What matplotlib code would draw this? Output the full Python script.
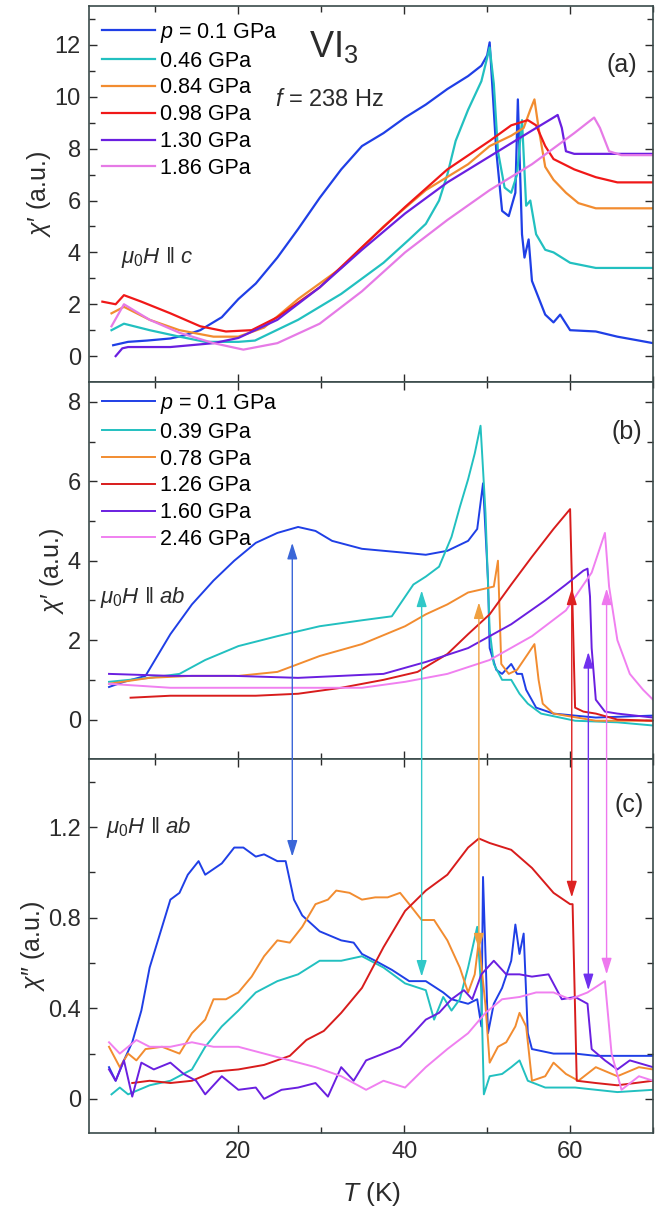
import matplotlib
matplotlib.use("Agg")
import matplotlib.pyplot as plt
from matplotlib.patches import ConnectionPatch
from matplotlib.ticker import MultipleLocator, FormatStrFormatter

plt.rcParams["font.family"] = ["Liberation Sans", "DejaVu Sans"]
plt.rcParams["mathtext.fontset"] = "custom"
plt.rcParams["mathtext.rm"] = "Liberation Sans"
plt.rcParams["mathtext.it"] = "Liberation Sans:italic"
plt.rcParams["mathtext.bf"] = "Liberation Sans:bold"

# ---- panel (a): chi' with H || c, f = 238 Hz ----
a_labels = [r"$p$ = 0.1 GPa", "0.46 GPa", "0.84 GPa", "0.98 GPa", "1.30 GPa", "1.86 GPa"]

a_T_010 = [4.9, 6.7, 9.0, 11.8, 13.5, 15.4, 18.0, 20.0, 22.1, 24.7, 27.2, 29.8, 32.4, 34.9,
           37.5, 40.1, 42.6, 45.2, 47.7, 49.3, 50.0, 50.3, 51.1, 51.8, 52.6, 53.4, 53.7,
           54.2, 54.5, 55.0, 55.4, 57.0, 58.0, 58.8, 60.0, 63.1, 65.7, 68.3, 70.0]
a_X_010 = [0.42, 0.55, 0.6, 0.68, 0.8, 1.0, 1.5, 2.2, 2.8, 3.8, 4.9, 6.1, 7.2, 8.1,
           8.6, 9.2, 9.7, 10.3, 10.8, 11.2, 11.6, 12.1, 7.9, 5.6, 5.4, 6.3, 9.9,
           4.7, 3.8, 4.5, 2.9, 1.6, 1.3, 1.6, 1.0, 0.95, 0.75, 0.6, 0.5]

a_T_046 = [4.7, 6.2, 9.3, 12.9, 16.0, 20.0, 22.0, 27.2, 32.4, 37.5, 40.6, 42.6, 44.2, 45.2,
           46.2, 47.7, 49.3, 50.3, 50.8, 51.3, 52.1, 52.9, 53.6, 54.2, 54.7, 55.2, 55.9,
           57.0, 58.0, 60.0, 63.1, 70.0]
a_X_046 = [1.0, 1.25, 1.0, 0.75, 0.55, 0.55, 0.6, 1.4, 2.4, 3.6, 4.5, 5.1, 6.0, 7.0,
           8.3, 9.5, 10.6, 11.9, 10.5, 7.9, 6.5, 6.3, 7.0, 9.1, 5.8, 6.0, 4.7,
           4.1, 4.0, 3.6, 3.4, 3.4]

a_T_084 = [4.7, 6.2, 9.3, 12.9, 17.0, 20.0, 23.1, 27.2, 32.4, 37.5, 42.6, 47.7, 50.3, 52.9,
           54.4, 55.2, 55.7, 56.2, 57.0, 58.0, 59.5, 61.0, 63.1, 70.0]
a_X_084 = [1.65, 1.9, 1.4, 1.0, 0.75, 0.75, 1.1, 2.2, 3.4, 5.0, 6.4, 7.4, 8.1, 8.5,
           8.8, 9.5, 9.9, 8.8, 7.3, 6.8, 6.3, 5.9, 5.7, 5.7]

a_T_098 = [3.6, 5.2, 6.2, 8.3, 11.8, 15.4, 18.5, 21.6, 24.7, 29.8, 34.9, 40.1, 45.2, 50.3,
           52.9, 54.9, 55.9, 57.0, 58.0, 60.5, 63.1, 65.7, 70.0]
a_X_098 = [2.1, 2.0, 2.35, 2.1, 1.65, 1.15, 0.95, 1.0, 1.5, 2.65, 4.2, 5.75, 7.2, 8.3,
           8.9, 9.1, 8.9, 8.1, 7.6, 7.2, 6.9, 6.7, 6.7]

a_T_130 = [5.2, 6.0, 6.7, 11.8, 17.0, 20.0, 24.7, 29.8, 34.9, 40.1, 45.2, 50.3, 55.4, 58.0,
           58.5, 59.0, 59.5, 60.5, 63.1, 70.0]
a_X_130 = [0.0, 0.3, 0.35, 0.35, 0.5, 0.7, 1.4, 2.65, 4.1, 5.5, 6.7, 7.7, 8.7, 9.2,
           9.3, 8.8, 7.9, 7.8, 7.8, 7.8]

a_T_186 = [4.7, 6.2, 9.3, 12.9, 17.0, 20.6, 24.7, 29.8, 34.9, 40.1, 45.2, 50.3, 55.4, 60.5,
           62.9, 63.6, 64.7, 66.2, 70.0]
a_X_186 = [1.15, 2.0, 1.4, 0.9, 0.5, 0.25, 0.5, 1.25, 2.5, 4.0, 5.25, 6.4, 7.4, 8.6,
           9.2, 8.8, 7.9, 7.75, 7.75]

# ---- panel (b): chi' with H || ab ----
b_labels = [r"$p$ = 0.1 GPa", "0.39 GPa", "0.78 GPa", "1.26 GPa", "1.60 GPa", "2.46 GPa"]

b_T_010 = [4.4, 6.2, 8.8, 11.8, 14.4, 17.0, 19.5, 22.1, 24.7, 27.2, 29.3, 31.3, 34.9, 40.1,
           42.6, 45.2, 47.7, 48.8, 49.5, 50.1, 50.3, 51.1, 51.8, 52.9, 53.6, 54.2, 54.7,
           55.9, 58.0, 63.1, 70.0]
b_X_010 = [0.82, 0.95, 1.1, 2.15, 2.9, 3.5, 4.0, 4.45, 4.7, 4.85, 4.75, 4.5, 4.3, 4.2,
           4.15, 4.25, 4.5, 4.8, 5.95, 3.5, 1.8, 1.25, 1.15, 1.4, 1.15, 1.15, 0.75,
           0.3, 0.15, 0.05, 0.1]

b_T_039 = [4.4, 9.3, 12.9, 16.0, 20.0, 24.7, 29.8, 34.9, 38.5, 39.8, 41.1, 42.6, 44.2, 45.7,
           46.7, 47.7, 48.5, 49.2, 49.8, 50.3, 50.8, 51.8, 52.9, 53.9, 54.9, 56.5, 60.6,
           65.7, 70.0]
b_X_039 = [0.95, 1.05, 1.15, 1.5, 1.85, 2.1, 2.35, 2.5, 2.6, 3.0, 3.4, 3.6, 3.85, 4.6,
           5.35, 6.05, 6.7, 7.4, 5.2, 2.25, 1.4, 1.0, 1.0, 0.65, 0.4, 0.15, -0.03,
           -0.07, -0.15]

b_T_078 = [4.4, 9.3, 14.4, 20.0, 24.7, 29.8, 34.9, 40.1, 42.6, 45.2, 47.7, 49.8, 50.8, 51.3,
           51.7, 52.6, 53.6, 54.9, 55.7, 56.2, 56.7, 58.0, 63.1, 70.0]
b_X_078 = [0.9, 1.05, 1.1, 1.1, 1.2, 1.6, 1.9, 2.35, 2.65, 2.9, 3.2, 3.3, 3.35, 4.0,
           1.4, 1.15, 1.25, 1.65, 1.9, 1.0, 0.4, 0.15, -0.03, -0.03]

b_T_126 = [7.0, 11.8, 17.0, 22.1, 27.2, 32.4, 37.5, 41.6, 45.2, 47.7, 50.3, 52.9, 55.4, 58.0,
           60.0, 60.6, 61.6, 63.1, 65.7, 70.0]
b_X_126 = [0.55, 0.6, 0.6, 0.6, 0.65, 0.8, 1.0, 1.2, 1.65, 2.15, 2.65, 3.4, 4.1, 4.8,
           5.3, 0.3, 0.2, 0.15, 0.0, -0.03]

b_T_160 = [4.4, 11.8, 19.5, 27.2, 32.4, 37.5, 42.6, 47.7, 52.9, 57.0, 59.5, 61.6, 62.1, 62.4,
           62.6, 63.1, 64.2, 65.7, 70.0]
b_X_160 = [1.15, 1.1, 1.1, 1.05, 1.1, 1.15, 1.45, 1.8, 2.4, 3.0, 3.4, 3.75, 3.8, 3.1,
           1.8, 0.5, 0.2, 0.15, 0.05]

b_T_246 = [4.4, 11.8, 19.5, 27.2, 34.9, 40.1, 45.2, 50.3, 55.4, 59.5, 62.6, 64.2, 64.7, 65.7,
           67.2, 68.8, 70.0]
b_X_246 = [0.9, 0.8, 0.8, 0.8, 0.8, 0.95, 1.15, 1.5, 2.1, 2.75, 3.7, 4.7, 3.35, 2.0,
           1.15, 0.75, 0.5]

# ---- panel (c): chi'' with H || ab ----
c_T_010 = [4.4, 5.2, 6.2, 7.2, 8.3, 9.3, 10.3, 11.8, 12.9, 13.9, 15.2, 16.0, 18.0, 19.5,
           20.6, 22.1, 23.1, 24.7, 25.7, 26.7, 27.7, 29.8, 32.4, 33.9, 34.9, 36.5, 38.5,
           40.6, 42.6, 44.7, 45.7, 47.7, 48.8, 49.3, 49.5, 50.1, 50.8, 51.8, 52.9, 53.4,
           53.9, 54.4, 54.9, 55.4, 58.0, 60.6, 63.1, 65.7, 70.0]
c_X_010 = [0.14, 0.08, 0.17, 0.25, 0.39, 0.58, 0.7, 0.88, 0.91, 0.99, 1.05, 0.99, 1.04, 1.11,
           1.11, 1.07, 1.08, 1.05, 1.05, 0.88, 0.81, 0.74, 0.7, 0.69, 0.64, 0.61, 0.57,
           0.52, 0.52, 0.47, 0.44, 0.42, 0.44, 0.32, 0.98, 0.29, 0.42, 0.49, 0.61, 0.77,
           0.64, 0.73, 0.29, 0.22, 0.2, 0.2, 0.19, 0.19, 0.19]

c_T_039 = [4.7, 5.7, 6.7, 9.3, 11.8, 14.4, 16.0, 18.0, 20.0, 22.1, 24.7, 27.2, 29.8, 32.4,
           34.9, 37.5, 40.1, 42.6, 43.6, 44.7, 45.7, 46.7, 47.7, 48.8, 49.3, 49.6, 50.3,
           51.8, 52.9, 53.9, 54.9, 57.0, 60.6, 65.7, 70.0]
c_X_039 = [0.02, 0.05, 0.02, 0.06, 0.08, 0.13, 0.23, 0.32, 0.39, 0.47, 0.52, 0.55, 0.61, 0.61,
           0.63, 0.58, 0.51, 0.48, 0.35, 0.45, 0.39, 0.44, 0.58, 0.76, 0.47, 0.02, 0.1,
           0.11, 0.14, 0.17, 0.08, 0.05, 0.05, 0.03, 0.04]

c_T_078 = [4.4, 5.7, 6.7, 7.7, 8.8, 10.8, 12.9, 14.4, 16.0, 17.0, 18.5, 20.0, 21.6, 23.1,
           24.7, 26.2, 27.7, 29.3, 30.8, 31.8, 33.4, 34.9, 36.5, 38.0, 39.5, 40.6, 42.1,
           43.6, 45.2, 46.7, 47.7, 48.5, 49.0, 49.8, 50.3, 51.3, 52.3, 53.4, 53.9, 54.7,
           55.4, 57.0, 58.0, 59.5, 61.0, 63.1, 65.7, 68.3, 70.0]
c_X_078 = [0.23, 0.14, 0.2, 0.17, 0.22, 0.23, 0.2, 0.29, 0.35, 0.44, 0.44, 0.47, 0.54, 0.63,
           0.7, 0.69, 0.76, 0.86, 0.88, 0.92, 0.91, 0.88, 0.89, 0.89, 0.91, 0.86, 0.79,
           0.79, 0.7, 0.58, 0.47, 0.55, 0.7, 0.41, 0.16, 0.23, 0.25, 0.32, 0.38, 0.32,
           0.08, 0.1, 0.16, 0.11, 0.08, 0.14, 0.1, 0.14, 0.13]

c_T_126 = [7.2, 9.3, 11.8, 14.4, 17.0, 20.0, 23.1, 26.2, 28.2, 30.3, 32.4, 34.9, 37.5, 40.1,
           42.6, 45.2, 47.7, 49.0, 50.3, 52.9, 55.4, 58.0, 60.0, 60.3, 60.8, 63.1, 65.7,
           70.0]
c_X_126 = [0.07, 0.08, 0.07, 0.08, 0.12, 0.13, 0.15, 0.19, 0.26, 0.3, 0.38, 0.49, 0.67, 0.83,
           0.92, 0.99, 1.11, 1.15, 1.13, 1.1, 1.02, 0.91, 0.86, 0.86, 0.08, 0.07, 0.06,
           0.08]

c_T_160 = [4.4, 5.2, 6.2, 7.2, 8.3, 9.8, 11.8, 13.4, 14.9, 16.0, 18.0, 20.0, 22.1, 23.1,
           25.2, 27.2, 29.3, 30.8, 32.4, 33.9, 35.4, 37.5, 39.5, 41.1, 42.6, 44.2, 45.7,
           47.2, 48.2, 49.3, 50.8, 52.3, 53.9, 55.4, 57.4, 59.0, 60.6, 62.1, 62.6, 64.2,
           65.7, 67.2, 70.0]
c_X_160 = [0.13, 0.08, 0.17, 0.01, 0.16, 0.13, 0.16, 0.11, 0.08, 0.02, 0.1, 0.04, 0.05, 0.0,
           0.04, 0.05, 0.07, 0.01, 0.14, 0.08, 0.17, 0.2, 0.23, 0.29, 0.35, 0.38, 0.44,
           0.48, 0.44, 0.55, 0.61, 0.55, 0.55, 0.54, 0.55, 0.44, 0.45, 0.42, 0.22, 0.17,
           0.13, 0.17, 0.14]

c_T_246 = [4.4, 5.7, 7.7, 9.3, 11.8, 14.4, 17.0, 20.0, 23.1, 26.2, 29.3, 32.4, 35.4, 37.5,
           40.1, 42.6, 45.2, 47.7, 49.8, 51.8, 53.9, 55.9, 58.0, 60.0, 62.1, 64.2, 65.0,
           66.2, 68.3, 70.0]
c_X_246 = [0.25, 0.2, 0.26, 0.23, 0.23, 0.25, 0.23, 0.23, 0.2, 0.17, 0.14, 0.1, 0.04, 0.08,
           0.05, 0.14, 0.22, 0.29, 0.38, 0.44, 0.45, 0.47, 0.47, 0.44, 0.47, 0.52, 0.2,
           0.04, 0.1, 0.08]

# arrows linking the chi' feature (b) with the chi'' feature (c)
arrow_T = [26.5, 42.1, 49.0, 60.2, 62.2, 64.4]
arrow_top = [4.45, 3.25, 2.95, 3.3, 1.7, 3.3]
arrow_bottom = [1.07, 0.54, 0.66, 0.89, 0.48, 0.55]

colors = ["#1f3fe6", "#22c0c0", "#f28c30", "#f01818", "#6a1fe0", "#e67ae6"]
colors_b = ["#1f3fe6", "#22c0c0", "#f28c30", "#d81c1c", "#6a1fe0", "#f080f0"]
arrow_colors = ["#3a66d8", "#30c8c8", "#f0a040", "#dd2222", "#7030ee", "#ee78ee"]

fig = plt.figure(figsize=(6.65, 12.09), dpi=100)
left, width = 0.134, 0.848
ax_a = fig.add_axes([left, 0.684, width, 0.311])
ax_b = fig.add_axes([left, 0.372, width, 0.312], sharex=ax_a)
ax_c = fig.add_axes([left, 0.063, width, 0.309], sharex=ax_a)

a_data = [(a_T_010, a_X_010), (a_T_046, a_X_046), (a_T_084, a_X_084),
          (a_T_098, a_X_098), (a_T_130, a_X_130), (a_T_186, a_X_186)]
b_data = [(b_T_010, b_X_010), (b_T_039, b_X_039), (b_T_078, b_X_078),
          (b_T_126, b_X_126), (b_T_160, b_X_160), (b_T_246, b_X_246)]
c_data = [(c_T_010, c_X_010), (c_T_039, c_X_039), (c_T_078, c_X_078),
          (c_T_126, c_X_126), (c_T_160, c_X_160), (c_T_246, c_X_246)]

for (T, X), col, lab in zip(a_data, colors, a_labels):
    ax_a.plot(T, X, color=col, lw=1.6, label=lab)
for (T, X), col, lab in zip(b_data, colors_b, b_labels):
    ax_b.plot(T, X, color=col, lw=1.4, label=lab)
for (T, X), col in zip(c_data, colors_b):
    ax_c.plot(T, X, color=col, lw=1.4)

ink = "#2b2b2b"
for ax in (ax_a, ax_b, ax_c):
    ax.set_xlim(2, 70)
    ax.xaxis.set_major_locator(MultipleLocator(20))
    ax.xaxis.set_minor_locator(MultipleLocator(10))
    ax.tick_params(which="both", direction="in", top=True, right=True,
                   colors=ink, labelsize=17, pad=6, width=1.0)
    ax.tick_params(which="major", length=6)
    ax.tick_params(which="minor", length=4.5)
    for sp in ax.spines.values():
        sp.set_color("#3a4a4a")
        sp.set_linewidth(1.2)

ax_a.tick_params(labelbottom=False)
ax_b.tick_params(labelbottom=False)

ax_a.set_ylim(-1, 13.5)
ax_a.yaxis.set_major_locator(MultipleLocator(2))
ax_a.yaxis.set_minor_locator(MultipleLocator(1))
ax_b.set_ylim(-1, 8.5)
ax_b.yaxis.set_major_locator(MultipleLocator(2))
ax_b.yaxis.set_minor_locator(MultipleLocator(1))
ax_c.set_ylim(-0.15, 1.5)
ax_c.yaxis.set_major_locator(MultipleLocator(0.4))
ax_c.yaxis.set_minor_locator(MultipleLocator(0.2))
ax_c.yaxis.set_major_formatter(FormatStrFormatter("%g"))

ax_a.set_ylabel("$\\chi$\u2032 (a.u.)", fontsize=18, color=ink, labelpad=1)
ax_b.set_ylabel("$\\chi$\u2032 (a.u.)", fontsize=18, color=ink, labelpad=1)
ax_c.set_ylabel("$\\chi$\u2033 (a.u.)", fontsize=18, color=ink, labelpad=1)
ax_c.set_xlabel(r"$T$ (K)", fontsize=19, color=ink, labelpad=12)

leg_kw = dict(loc="upper left", frameon=False, fontsize=15.5, handlelength=2.45,
              handletextpad=0.25, labelspacing=0.27, borderaxespad=0.2)
ax_a.legend(bbox_to_anchor=(0.0, 0.995), **leg_kw)
ax_b.legend(bbox_to_anchor=(0.0, 1.008), **leg_kw)

ax_a.text(0.433, 0.891, r"VI$_3$", transform=ax_a.transAxes, fontsize=26,
          ha="center", va="center", color=ink)
ax_a.text(0.427, 0.75, r"$f$ = 238 Hz", transform=ax_a.transAxes, fontsize=17,
          ha="center", va="center", color=ink)
ax_a.text(0.945, 0.843, "(a)", transform=ax_a.transAxes, fontsize=18,
          ha="center", va="center", color=ink)
ax_a.text(0.057, 0.332, "$\\mu_0H$ \u2016 $c$", transform=ax_a.transAxes,
          fontsize=16, ha="left", va="center", color=ink)
ax_b.text(0.954, 0.867, "(b)", transform=ax_b.transAxes, fontsize=18,
          ha="center", va="center", color=ink)
ax_b.text(0.02, 0.43, "$\\mu_0H$ \u2016 $ab$", transform=ax_b.transAxes,
          fontsize=16, ha="left", va="center", color=ink)
ax_c.text(0.957, 0.877, "(c)", transform=ax_c.transAxes, fontsize=18,
          ha="center", va="center", color=ink)
ax_c.text(0.03, 0.818, "$\\mu_0H$ \u2016 $ab$", transform=ax_c.transAxes,
          fontsize=16, ha="left", va="center", color=ink)

for T, top, bot, col in zip(arrow_T, arrow_top, arrow_bottom, arrow_colors):
    con = ConnectionPatch(xyA=(T, top), coordsA=ax_b.transData,
                          xyB=(T, bot), coordsB=ax_c.transData,
                          arrowstyle="<|-|>,head_length=0.7,head_width=0.22",
                          mutation_scale=14, color=col, lw=1.0,
                          shrinkA=0, shrinkB=0)
    fig.add_artist(con)

fig.savefig("out.png", dpi=100)
